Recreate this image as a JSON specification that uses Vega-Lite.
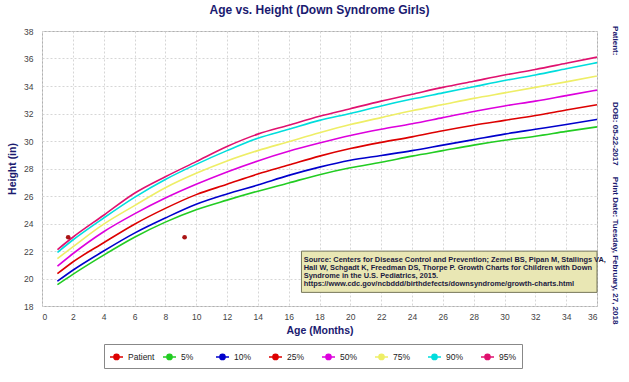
{
  "$schema": "https://vega.github.io/schema/vega-lite/v6.json",
  "width": 555,
  "height": 275,
  "autosize": {"type": "none"},
  "padding": {"left": 42, "top": 31, "right": 32, "bottom": 76},
  "background": "white",
  "title": {
    "text": "Age vs. Height (Down Syndrome Girls)",
    "font": "Liberation Sans",
    "fontSize": 12,
    "fontWeight": "bold",
    "color": "#1a1a70",
    "anchor": "middle",
    "offset": 9
  },
  "config": {
    "view": {"stroke": "#b0b0b0", "strokeWidth": 1},
    "axis": {
      "labelFont": "Liberation Sans",
      "labelFontSize": 8.5,
      "labelColor": "#444444",
      "labelOverlap": false,
      "titleFont": "Liberation Sans",
      "titleFontSize": 10.5,
      "titleFontWeight": "bold",
      "titleColor": "#1a1a70",
      "gridColor": "#d6d6d6",
      "gridDash": [2, 2],
      "domain": false,
      "ticks": false
    }
  },
  "layer": [
    {
      "data": {
        "values": [
          {"age": 1, "5%": 19.55, "10%": 19.8, "25%": 20.35, "50%": 20.9, "75%": 21.45, "90%": 21.9, "95%": 22.1},
          {"age": 2, "5%": 20.3, "10%": 20.6, "25%": 21.2, "50%": 21.8, "75%": 22.3, "90%": 22.8, "95%": 23.0},
          {"age": 4, "5%": 21.7, "10%": 22.0, "25%": 22.6, "50%": 23.4, "75%": 23.95, "90%": 24.4, "95%": 24.6},
          {"age": 6, "5%": 23.0, "10%": 23.3, "25%": 23.95, "50%": 24.7, "75%": 25.3, "90%": 25.9, "95%": 26.2},
          {"age": 8, "5%": 24.1, "10%": 24.4, "25%": 25.1, "50%": 25.85, "75%": 26.6, "90%": 27.2, "95%": 27.4},
          {"age": 10, "5%": 25.0, "10%": 25.4, "25%": 26.1, "50%": 26.85, "75%": 27.65, "90%": 28.3, "95%": 28.5},
          {"age": 12, "5%": 25.7, "10%": 26.15, "25%": 26.85, "50%": 27.75, "75%": 28.55, "90%": 29.3, "95%": 29.6},
          {"age": 14, "5%": 26.35, "10%": 26.8, "25%": 27.6, "50%": 28.55, "75%": 29.3, "90%": 30.2, "95%": 30.5},
          {"age": 16, "5%": 26.95, "10%": 27.5, "25%": 28.25, "50%": 29.25, "75%": 29.95, "90%": 30.85, "95%": 31.15},
          {"age": 18, "5%": 27.55, "10%": 28.1, "25%": 28.9, "50%": 29.85, "75%": 30.6, "90%": 31.5, "95%": 31.8},
          {"age": 20, "5%": 28.05, "10%": 28.6, "25%": 29.45, "50%": 30.4, "75%": 31.2, "90%": 32.0, "95%": 32.35},
          {"age": 22, "5%": 28.45, "10%": 28.95, "25%": 29.9, "50%": 30.85, "75%": 31.7, "90%": 32.55, "95%": 32.9},
          {"age": 24, "5%": 28.9, "10%": 29.3, "25%": 30.3, "50%": 31.25, "75%": 32.2, "90%": 33.05, "95%": 33.4},
          {"age": 26, "5%": 29.3, "10%": 29.7, "25%": 30.75, "50%": 31.7, "75%": 32.65, "90%": 33.5, "95%": 33.9},
          {"age": 28, "5%": 29.7, "10%": 30.1, "25%": 31.15, "50%": 32.15, "75%": 33.1, "90%": 33.95, "95%": 34.35},
          {"age": 30, "5%": 30.05, "10%": 30.5, "25%": 31.5, "50%": 32.55, "75%": 33.5, "90%": 34.4, "95%": 34.8},
          {"age": 32, "5%": 30.35, "10%": 30.85, "25%": 31.85, "50%": 32.9, "75%": 33.9, "90%": 34.8, "95%": 35.2},
          {"age": 34, "5%": 30.7, "10%": 31.2, "25%": 32.25, "50%": 33.3, "75%": 34.3, "90%": 35.25, "95%": 35.65},
          {"age": 36, "5%": 31.03, "10%": 31.57, "25%": 32.64, "50%": 33.7, "75%": 34.73, "90%": 35.7, "95%": 36.1}
        ]
      },
      "transform": [
        {"fold": ["5%", "10%", "25%", "50%", "75%", "90%", "95%"], "as": ["series", "height"]}
      ],
      "mark": {"type": "line", "strokeWidth": 1.6, "interpolate": "monotone"},
      "encoding": {
        "x": {
          "field": "age", "type": "quantitative",
          "scale": {"domain": [0, 36], "nice": false},
          "axis": {"values": [0,2,4,6,8,10,12,14,16,18,20,22,24,26,28,30,32,34,36], "title": "Age (Months)", "labelPadding": 6, "titlePadding": 5}
        },
        "y": {
          "field": "height", "type": "quantitative",
          "scale": {"domain": [18, 38], "nice": false, "zero": false},
          "axis": {"values": [18,20,22,24,26,28,30,32,34,36,38], "title": "Height (in)", "labelPadding": 9, "titlePadding": 6}
        },
        "color": {
          "field": "series", "type": "nominal",
          "scale": {
            "domain": ["Patient", "5%", "10%", "25%", "50%", "75%", "90%", "95%"],
            "range": ["#dd0000", "#22cc22", "#0000cc", "#dd0000", "#dd00dd", "#eeee66", "#00dddd", "#e0116f"]
          },
          "legend": {
            "orient": "none",
            "legendX": 62,
            "legendY": 313,
            "title": null,
            "direction": "horizontal",
            "columns": 8,
            "gridAlign": "all",
            "columnPadding": 5,
            "padding": 5,
            "strokeColor": "#888888",
            "fillColor": "white",
            "symbolType": "M-1,0L1,0M0.4,0A0.4,0.4,0,1,1,-0.4,0A0.4,0.4,0,1,1,0.4,0Z",
            "symbolSize": 169,
            "symbolStrokeWidth": 1.5,
            "labelFont": "Liberation Sans",
            "labelFontSize": 8.5,
            "labelColor": "#222222",
            "labelOffset": 4,
            "encode": {"symbols": {"update": {"fill": {"scale": "color", "field": "value"}}}}
          }
        },
        "detail": {"field": "series"}
      }
    },
    {
      "data": {"values": [{"series": "Patient", "age": 1.7, "height": 23.0}, {"series": "Patient", "age": 9.25, "height": 23.0}]},
      "mark": {"type": "point", "filled": true, "size": 22, "opacity": 1, "color": "#aa1515"},
      "encoding": {
        "x": {"field": "age", "type": "quantitative",
          "axis": {"values": [0,2,4,6,8,10,12,14,16,18,20,22,24,26,28,30,32,34,36], "title": "Age (Months)", "labelPadding": 6, "titlePadding": 5}},
        "y": {"field": "height", "type": "quantitative",
          "axis": {"values": [18,20,22,24,26,28,30,32,34,36,38], "title": "Height (in)", "labelPadding": 9, "titlePadding": 6}}
      }
    },
    {
      "data": {"values": [{}]},
      "mark": {"type": "rect", "fill": "#e9e7b4", "stroke": "#77775a", "strokeWidth": 1},
      "encoding": {
        "x": {"datum": 16.83, "type": "quantitative",
          "axis": {"values": [0,2,4,6,8,10,12,14,16,18,20,22,24,26,28,30,32,34,36], "title": "Age (Months)", "labelPadding": 6, "titlePadding": 5}},
        "x2": {"datum": 36},
        "y": {"datum": 21.99, "type": "quantitative",
          "axis": {"values": [18,20,22,24,26,28,30,32,34,36,38], "title": "Height (in)", "labelPadding": 9, "titlePadding": 6}},
        "y2": {"datum": 18.99}
      }
    },
    {
      "data": {"values": [{}]},
      "mark": {
        "type": "text", "align": "left", "baseline": "top",
        "font": "Liberation Sans", "fontSize": 7.4, "fontWeight": "bold",
        "color": "#1a1a40", "lineHeight": 7.8
      },
      "encoding": {
        "x": {"datum": 16.98, "type": "quantitative",
          "axis": {"values": [0,2,4,6,8,10,12,14,16,18,20,22,24,26,28,30,32,34,36], "title": "Age (Months)", "labelPadding": 6, "titlePadding": 5}},
        "y": {"datum": 21.62, "type": "quantitative",
          "axis": {"values": [18,20,22,24,26,28,30,32,34,36,38], "title": "Height (in)", "labelPadding": 9, "titlePadding": 6}},
        "text": {"value": [
          "Source: Centers for Disease Control and Prevention; Zemel BS, Pipan M, Stallings VA,",
          "Hall W, Schgadt K, Freedman DS, Thorpe P. Growth Charts for Children with Down",
          "Syndrome in the U.S. Pediatrics, 2015.",
          "https://www.cdc.gov/ncbddd/birthdefects/downsyndrome/growth-charts.html"
        ]}
      }
    },
    {
      "data": {"values": [{}]},
      "mark": {
        "type": "text", "angle": 90, "align": "center", "baseline": "middle",
        "font": "Liberation Sans", "fontSize": 8, "fontWeight": "bold",
        "color": "#1a1a70", "clip": false
      },
      "encoding": {
        "x": {"datum": 37.17, "type": "quantitative",
          "axis": {"values": [0,2,4,6,8,10,12,14,16,18,20,22,24,26,28,30,32,34,36], "title": "Age (Months)", "labelPadding": 6, "titlePadding": 5}},
        "y": {"datum": 27.51, "type": "quantitative",
          "axis": {"values": [18,20,22,24,26,28,30,32,34,36,38], "title": "Height (in)", "labelPadding": 9, "titlePadding": 6}},
        "text": {"value": "Patient:\u00a0\u00a0\u00a0\u00a0\u00a0\u00a0\u00a0\u00a0\u00a0\u00a0\u00a0\u00a0\u00a0\u00a0\u00a0\u00a0\u00a0\u00a0\u00a0\u00a0\u00a0DOB: 05-22-2017\u00a0\u00a0\u00a0\u00a0\u00a0Print Date: Tuesday, February, 27, 2018"}
      }
    }
  ]
}
